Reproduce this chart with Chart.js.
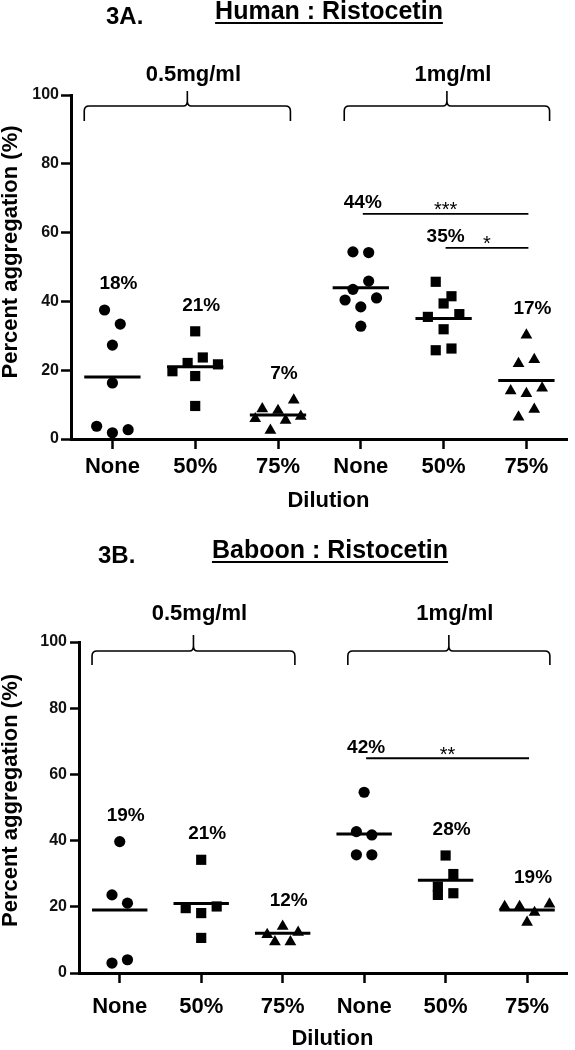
<!DOCTYPE html>
<html>
<head>
<meta charset="utf-8">
<script src="https://cdn.jsdelivr.net/npm/chart.js@4.4.1/dist/chart.umd.min.js"></script>
<style>
  body { margin: 0; background: #fff; }
  canvas { display: block; }
</style>
</head>
<body>
<canvas id="human" width="575" height="520"></canvas>
<canvas id="baboon" width="575" height="530"></canvas>
<script>
const dilutions = ['None', '50%', '75%', 'None', '50%', '75%'];
const doses = ['0.5mg/ml', '1mg/ml'];
const yTicks = [0, 20, 40, 60, 80, 100];

// 3A. Human : Ristocetin  (percent aggregation, one value per sample)
const humanNoneLow = [37.5, 33.4, 27.3, 16.3, 3.7, 1.8, 2.7];
const humanHalfLow = [31.3, 19.7, 22.1, 23.7, 21.7, 18.3, 9.6];
const humanQuarterLow = [5.9, 8.8, 2.5, 8.3, 5.4, 11.3, 6.6];
const humanNoneHigh = [54.4, 54.2, 43.5, 45.9, 40.4, 38.4, 41.0, 32.8];
const humanHalfHigh = [45.7, 41.5, 35.5, 39.4, 36.3, 31.9, 25.8, 26.3];
const humanQuarterHigh = [30.2, 21.9, 23.1, 14.0, 13.2, 14.8, 6.4, 8.6];
const humanMeans = [18, 21, 7, 44, 35, 17];
const humanStats = [{from: 3, to: 5, stars: '***'}, {from: 4, to: 5, stars: '*'}];

// 3B. Baboon : Ristocetin
const baboonNoneLow = [39.7, 23.6, 21.1, 3.0, 4.0];
const baboonHalfLow = [34.2, 19.6, 18.1, 20.1, 10.6];
const baboonQuarterLow = [11.6, 14.1, 12.3, 9.4, 9.4];
const baboonNoneHigh = [54.6, 42.7, 41.7, 35.7, 35.7];
const baboonHalfHigh = [35.5, 26.1, 29.9, 23.6, 24.1];
const baboonQuarterHigh = [20.1, 20.1, 18.3, 20.8, 15.3];
const baboonMeans = [19, 21, 12, 42, 28, 19];
const baboonStats = [{from: 3, to: 5, stars: '**'}];

const FAMILY = '"Liberation Sans", Arial, Helvetica, sans-serif';
Chart.defaults.font.family = FAMILY;
Chart.defaults.color = '#000';

const styles = ['circle', 'rect', 'triangle'];
const radius = {circle: 5.6, rect: 7.2, triangle: 6.8};

// Prism-like scatter: values close together sit side by side in one row
function spread(values, gap, step, maxWidth) {
  const order = values.map((v, k) => k).sort((a, b) => values[b] - values[a]);
  const offsets = new Array(values.length).fill(0);
  let i = 0;
  while (i < order.length) {
    const row = [order[i]];
    let j = i + 1;
    while (j < order.length && values[order[i]] - values[order[j]] <= gap) row.push(order[j++]);
    row.sort((a, b) => a - b);
    const n = row.length;
    const s = n > 1 ? Math.min(step, maxWidth / (n - 1)) : 0;
    row.forEach((k, r) => { offsets[k] = (r - (n - 1) / 2) * s; });
    i = j;
  }
  return offsets;
}

function font(size, weight) {
  return weight + ' ' + size + 'px ' + FAMILY;
}

function annotations(groups, means, stats, o) {
  return {
    id: 'annotations',
    afterDraw(chart) {
      const {ctx, chartArea: area, scales: {x, y}} = chart;
      ctx.save();
      ctx.fillStyle = '#000';
      ctx.strokeStyle = '#000';

      // panel letter and underlined title
      ctx.textAlign = 'left';
      ctx.textBaseline = 'alphabetic';
      ctx.font = font(24, 'bold');
      ctx.fillText(o.panel, o.panelX, o.panelY);
      ctx.font = font(25, 'bold');
      const tw = ctx.measureText(o.title).width;
      const tx = o.titleX - tw / 2;
      ctx.fillText(o.title, tx, o.titleY);
      ctx.fillRect(tx, o.titleY + 3, tw, 2);

      // axis titles
      ctx.save();
      ctx.translate(17, (area.top + area.bottom) / 2 + o.yTitleDy);
      ctx.rotate(-Math.PI / 2);
      ctx.textAlign = 'center';
      ctx.font = font(22, 'bold');
      ctx.fillText('Percent aggregation (%)', 0, 0);
      ctx.restore();

      ctx.textAlign = 'center';
      ctx.textBaseline = 'middle';
      ctx.font = font(22, 'bold');
      ctx.fillText('Dilution', (area.left + area.right) / 2 + 9, o.dilutionY);

      // braces over the two ristocetin doses
      ctx.lineWidth = 1.6;
      o.braces.forEach((b, k) => {
        const x0 = x.getPixelForValue(b.from + b.padL);
        const x1 = x.getPixelForValue(b.to + b.padR);
        const xm = (x0 + x1) / 2;
        const yl = area.top + o.braceLine;
        const yt = area.top + o.braceTip;
        const yp = area.top + o.bracePeak;
        const r = 5;
        ctx.beginPath();
        ctx.moveTo(x0, yt);
        ctx.lineTo(x0, yl + r);
        ctx.quadraticCurveTo(x0, yl, x0 + r, yl);
        ctx.lineTo(xm - 4, yl);
        ctx.quadraticCurveTo(xm, yl, xm, yl - 5);
        ctx.lineTo(xm, yp);
        ctx.moveTo(xm, yl - 5);
        ctx.quadraticCurveTo(xm, yl, xm + 4, yl);
        ctx.lineTo(x1 - r, yl);
        ctx.quadraticCurveTo(x1, yl, x1, yl + r);
        ctx.lineTo(x1, yt);
        ctx.stroke();
        ctx.font = font(22, 'bold');
        ctx.fillText(doses[k], xm + 6, area.top + o.doseY);
      });

      // significance bars, narrowest first so wider ones stack above
      const placed = [];
      stats.slice().sort((a, b) => (a.to - a.from) - (b.to - b.from)).forEach(c => {
        let top = Infinity;
        for (let g = c.from; g <= c.to; g++) top = Math.min(top, y.getPixelForValue(Math.max(...groups[g])));
        placed.forEach(p => { if (p.from <= c.to && p.to >= c.from) top = Math.min(top, p.py); });
        placed.push(Object.assign({py: top - 34}, c));
      });
      ctx.lineWidth = 1.8;
      placed.forEach(p => {
        const xa = x.getPixelForValue(p.from) + 2;
        const xb = x.getPixelForValue(p.to) + 2;
        ctx.beginPath();
        ctx.moveTo(xa, p.py);
        ctx.lineTo(xb, p.py);
        ctx.stroke();
        ctx.font = font(20, 'normal');
        ctx.textBaseline = 'alphabetic';
        ctx.fillText(p.stars, (xa + xb) / 2, p.py + 2.5);
      });

      // mean labels
      ctx.textBaseline = 'middle';
      ctx.font = font(19, 'bold');
      means.forEach((m, g) => {
        const bar = placed.find(p => p.from === g);
        let lx, ly;
        if (bar) {
          lx = x.getPixelForValue(g) + 2;
          ly = bar.py - 11;
        } else {
          lx = x.getPixelForValue(g) + 6;
          ly = y.getPixelForValue(Math.max(...groups[g])) - 26;
        }
        ctx.fillText(m + '%', lx, ly);
      });
      ctx.restore();
    }
  };
}

function buildChart(id, groups, means, stats, o) {
  const datasets = [];
  groups.forEach((vals, i) => {
    const off = spread(vals, 4.4, 0.19, 0.55);
    const style = styles[i % 3];
    datasets.push({
      type: 'scatter',
      data: vals.map((v, k) => ({x: i + off[k], y: v})),
      pointStyle: style,
      pointRadius: radius[style],
      pointHoverRadius: radius[style],
      backgroundColor: '#000',
      borderColor: '#000',
      borderWidth: 0,
      clip: false
    });
    datasets.push({
      type: 'line',
      data: [{x: i - 0.34, y: means[i]}, {x: i + 0.34, y: means[i]}],
      borderColor: '#000',
      borderWidth: 3,
      pointRadius: 0,
      fill: false,
      clip: false
    });
  });

  const axisGrid = (len) => ({
    drawOnChartArea: false, drawTicks: true, tickLength: len, tickWidth: 2.5, tickColor: '#000'
  });

  return new Chart(document.getElementById(id), {
    type: 'scatter',
    data: {datasets},
    options: {
      responsive: false,
      animation: false,
      events: [],
      layout: {padding: {top: o.top, left: 0, right: 4, bottom: 0}},
      plugins: {legend: {display: false}, tooltip: {enabled: false}},
      scales: {
        x: {
          type: 'linear',
          min: -0.5,
          max: 5.5,
          afterBuildTicks: s => { s.ticks = dilutions.map((d, i) => ({value: i})); },
          afterFit: s => { s.height = o.xHeight; },
          ticks: {
            callback: v => dilutions[v],
            color: '#000',
            font: {size: 22, weight: 'bold'},
            padding: o.xPad,
            maxRotation: 0,
            autoSkip: false
          },
          grid: axisGrid(10),
          border: {color: '#000', width: 3}
        },
        y: {
          min: 0,
          max: 100,
          afterBuildTicks: s => { s.ticks = yTicks.map(v => ({value: v})); },
          afterFit: s => { s.width = o.yWidth; },
          ticks: {color: '#111', font: {size: 16, weight: 'bold'}, padding: o.yPad},
          grid: axisGrid(o.yTick),
          border: {color: '#000', width: 3}
        }
      }
    },
    plugins: [annotations(groups, means, stats, o)]
  });
}

const braces = [
  {from: 0, to: 2, padL: -0.34, padR: 0.15},
  {from: 3, to: 5, padL: -0.2, padR: 0.28}
];

buildChart('human',
  [humanNoneLow, humanHalfLow, humanQuarterLow, humanNoneHigh, humanHalfHigh, humanQuarterHigh],
  humanMeans, humanStats,
  {
    top: 95, xHeight: 81, xPad: 5, yWidth: 71, yTick: 10, yPad: 2,
    panel: '3A.', panelX: 106, panelY: 24, title: 'Human : Ristocetin', titleX: 329, titleY: 19,
    yTitleDy: -15, dilutionY: 501,
    doseY: -20, bracePeak: -4, braceLine: 11, braceTip: 26, braces
  });

buildChart('baboon',
  [baboonNoneLow, baboonHalfLow, baboonQuarterLow, baboonNoneHigh, baboonHalfHigh, baboonQuarterHigh],
  baboonMeans, baboonStats,
  {
    top: 122, xHeight: 77, xPad: 11, yWidth: 79, yTick: 9, yPad: 3,
    panel: '3B.', panelX: 98, panelY: 43, title: 'Baboon : Ristocetin', titleX: 330, titleY: 38,
    yTitleDy: -7, dilutionY: 519,
    doseY: -28, bracePeak: -7, braceLine: 9, braceTip: 23, braces
  });
</script>
</body>
</html>
